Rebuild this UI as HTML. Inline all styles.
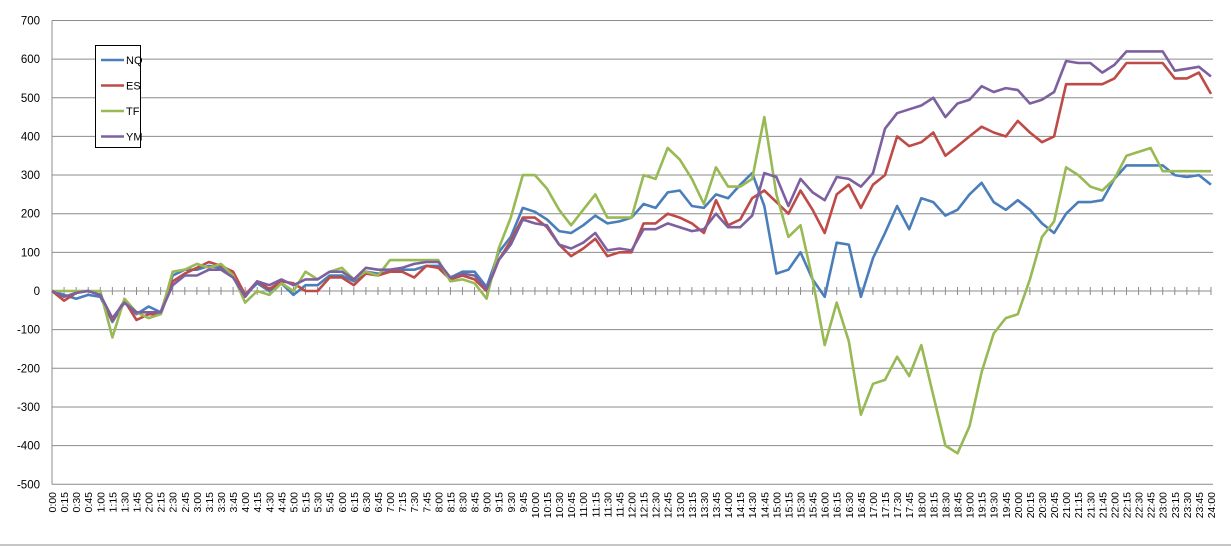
<!DOCTYPE html>
<html><head><meta charset="utf-8"><style>
html,body{margin:0;padding:0;background:#fff;}
svg{display:block;font-family:"Liberation Sans",Arial,sans-serif;}
</style></head><body>
<svg id="chart" width="1231" height="546" viewBox="0 0 1231 546"></svg>
<script>
const seriesNames=["NQ","ES","TF","YM"];
const seriesColors=["#4a7ebb","#be4b48","#98b954","#7d60a0"];
const yTicks=[700,600,500,400,300,200,100,0,-100,-200,-300,-400,-500];
const nqValues=[0,-10,-20,-10,-15,-80,-30,-60,-40,-55,40,55,55,65,60,40,-10,20,0,20,-10,15,15,40,40,25,50,45,50,55,55,65,65,35,50,50,10,100,140,215,205,185,155,150,170,195,175,180,190,225,215,255,260,220,215,250,240,275,305,220,45,55,100,30,-15,125,120,-15,85,150,220,160,240,230,195,210,250,280,230,210,235,210,175,150,200,230,230,235,290,325,325,325,325,300,295,300,275];
const esValues=[0,-25,-5,0,-10,-75,-25,-75,-60,-60,25,45,60,75,65,50,-10,25,5,25,20,0,0,35,35,15,45,40,50,50,35,65,60,30,40,30,0,80,130,190,190,165,120,90,110,135,90,100,100,175,175,200,190,175,150,235,170,185,240,260,230,200,260,210,150,250,275,215,275,300,400,375,385,410,350,375,400,425,410,400,440,410,385,400,535,535,535,535,550,590,590,590,590,550,550,565,510];
const tfValues=[0,0,0,0,0,-120,-20,-55,-70,-60,50,55,70,60,70,40,-30,0,-10,20,0,50,30,50,60,30,50,40,80,80,80,80,80,25,30,20,-20,110,190,300,300,265,210,170,210,250,190,190,190,300,290,370,340,290,225,320,270,270,290,450,250,140,170,30,-140,-30,-130,-320,-240,-230,-170,-220,-140,-270,-400,-420,-350,-210,-110,-70,-60,30,140,180,320,300,270,260,290,350,360,370,310,310,310,310,310];
const ymValues=[0,-15,-5,0,-10,-70,-30,-55,-55,-55,15,40,40,55,55,35,-15,25,15,30,15,30,30,50,50,30,60,55,55,60,70,75,75,35,45,40,5,80,120,185,175,170,120,110,125,150,105,110,105,160,160,175,165,155,160,200,165,165,195,305,295,220,290,255,235,295,290,270,305,420,460,470,480,500,450,485,495,530,515,525,520,485,495,515,595,590,590,565,585,620,620,620,620,570,575,580,555];
const categories=[];
for(let i=0;i<=96;i++){const h=Math.floor(i/4),m=(i%4)*15;categories.push(h+":"+(m<10?"0":"")+m);}

const NS="http://www.w3.org/2000/svg";
const svg=document.getElementById("chart");
const X0=52,X1=1211,Y0=291,PX=0.3865;
const xPos=i=>X0+(X1-X0)*i/(categories.length-1);
const yPos=v=>Y0-v*PX;
function mk(t,a,p){const e=document.createElementNS(NS,t);for(const k in a)e.setAttribute(k,a[k]);(p||svg).appendChild(e);return e;}

const gGrid=mk("g",{});


yTicks.forEach(v=>{
  if(v!==0){const l=mk("line",{x1:X0,x2:X1+2,y1:yPos(v),y2:yPos(v),stroke:"#8c8c8c","stroke-width":1},gGrid);
  
  }
  const t=mk("text",{x:40,y:yPos(v)+4,"text-anchor":"end","font-size":"11.5",fill:"#000"});
  t.textContent=v;
  
  
});
const yAxis=mk("line",{x1:X0,x2:X0,y1:yPos(700),y2:yPos(-500),stroke:"#8c8c8c"});


const xAxis=mk("line",{x1:X0,x2:X1,y1:Y0,y2:Y0,stroke:"#8c8c8c"});


categories.forEach((c,i)=>{
  const x=xPos(i);
  const tk=mk("line",{x1:x,x2:x,y1:Y0-4,y2:Y0+4,stroke:"#8c8c8c"});
  
  
  const t=mk("text",{x:0,y:0,"text-anchor":"end","font-size":"10.5",transform:`translate(${x+4},492) rotate(-90)`});
  t.textContent=c;
  
  
});
const bl=mk("line",{x1:0,x2:1231,y1:545,y2:545,stroke:"#8c8c8c"});



const allValues=[nqValues,esValues,tfValues,ymValues];
allValues.forEach((vals,s)=>{
  const p=mk("polyline",{points:vals.map((v,i)=>xPos(i).toFixed(1)+","+yPos(v).toFixed(1)).join(" "),fill:"none",stroke:seriesColors[s],"stroke-width":2.6,"stroke-linejoin":"round"});
  
  
});

const lg=mk("g",{});


mk("rect",{x:95.5,y:45.5,width:45,height:102,fill:"#fff",stroke:"#000"},lg);
seriesNames.forEach((n,s)=>{
  const y=60+s*25.5;
  const e=mk("g",{},lg);
  
  
  mk("line",{x1:101,x2:124,y1:y,y2:y,stroke:seriesColors[s],"stroke-width":2.6},e);
  const t=mk("text",{x:126,y:y+4,"font-size":"11"},e);t.textContent=n;
});
</script>
</body></html>
